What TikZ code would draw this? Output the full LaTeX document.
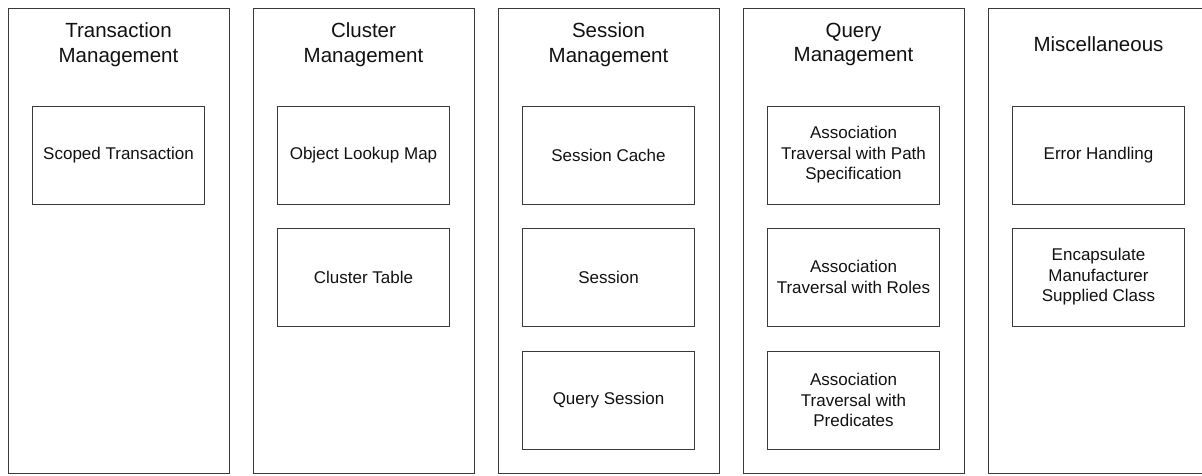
\documentclass[tikz,border=0pt]{standalone}
\usepackage{fontspec}
\setmainfont{Liberation Sans}
\definecolor{linec}{HTML}{3A3A3A}
\definecolor{textc}{HTML}{111111}
\begin{document}
\begin{tikzpicture}[x=1pt,y=-1pt,
  colbox/.style={draw=linec, line width=0.9pt, minimum width=221pt, minimum height=465pt, inner sep=0pt},
  itembox/.style={draw=linec, line width=0.9pt, minimum width=172.5pt, minimum height=98pt, inner sep=0pt, align=center, text=textc, font=\fontsize{17}{20.5}\selectfont},
  coltitle/.style={align=center, text=textc, inner sep=0pt, font=\fontsize{20.5}{24.5}\selectfont}]
\useasboundingbox (0,0) rectangle (1202,476);
\clip (0,0) rectangle (1202,476);
% columns
\node[colbox] (c1) at (118.5,240.5) {};
\node[colbox] (c2) at (363.5,240.5) {};
\node[colbox] (c3) at (608.5,240.5) {};
\node[colbox] (c4) at (853.5,240.5) {};
\node[colbox] (c5) at (1098.5,240.5) {};
% titles
\node[coltitle] (t1) at (118.5,44.5) {Transaction\\Management};
\node[coltitle] (t2) at (363.5,44.5) {Cluster\\Management};
\node[coltitle] (t3) at (608.5,44.5) {Session\\Management};
\node[coltitle] (t4) at (853.5,44.5) {Query\\Management};
\node[coltitle] (t5) at (1098.5,44.5) {Miscellaneous};
% items
\node[itembox] (a1) at (118.5,155) {Scoped Transaction};
\node[itembox] (b1) at (363.5,155) {Object Lookup Map};
\node[itembox] (b2) at (363.5,277) {Cluster Table};
\node[itembox] (s1) at (608.5,155) {Session Cache};
\node[itembox] (s2) at (608.5,277) {Session};
\node[itembox] (s3) at (608.5,400) {Query Session};
\node[itembox] (q1) at (853.5,155) {Association\\Traversal with Path\\Specification};
\node[itembox] (q2) at (853.5,277) {Association\\Traversal with Roles};
\node[itembox] (q3) at (853.5,400) {Association\\Traversal with\\Predicates};
\node[itembox] (m1) at (1098.5,155) {Error Handling};
\node[itembox] (m2) at (1098.5,277) {Encapsulate\\Manufacturer\\Supplied Class};
\end{tikzpicture}
\end{document}
